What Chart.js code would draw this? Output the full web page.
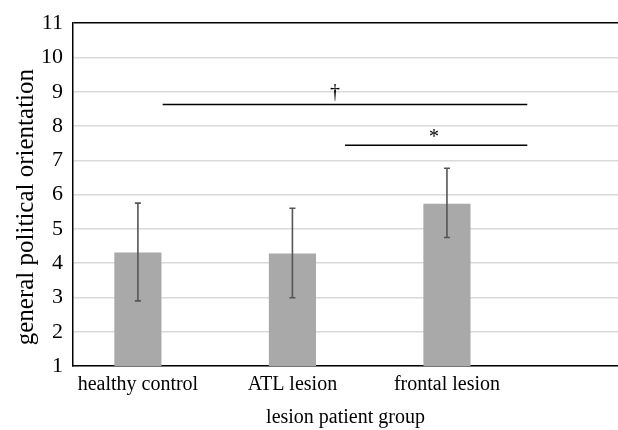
<!DOCTYPE html>
<html>
<head>
<meta charset="utf-8">
<script src="https://cdn.jsdelivr.net/npm/chart.js@4"></script>
<style>
  html, body { margin: 0; padding: 0; background: #fff; }
  #box { width: 618px; height: 430px; }
</style>
</head>
<body>
<div id="box"><canvas id="grafico"></canvas></div>
<script>
// dados
var grupos = ['healthy control', 'ATL lesion', 'frontal lesion'];
var medias = [4.31, 4.28, 5.73];
var erroBaixo = [2.90, 2.99, 4.75];
var erroAlto = [5.75, 5.60, 6.77];
var yTicks = [1, 2, 3, 4, 5, 6, 7, 8, 9, 10, 11];

// linhas de significancia: inicio, fim (em posicao de grupo), altura, simbolo e posicao do simbolo
var sigInicio = [0.16, 1.34];
var sigFim = [2.52, 2.52];
var sigAltura = [8.63, 7.44];
var sigTexto = ['\u2020', '*'];
var sigTextoX = [1.275, 1.916];
var sigTextoY = [8.98, 7.66];

var fonte = '"Liberation Serif", "DejaVu Serif", serif';

var pontos = [];
for (let i = 0; i < grupos.length; i++) {
    pontos.push({ x: i, y: medias[i] });
}

// barras de erro + significancia
var pluginErro = {
    id: 'erro',
    afterDatasetsDraw(chart) {
        var ctx = chart.ctx;
        var xs = chart.scales.x, ys = chart.scales.y;
        ctx.save();
        ctx.strokeStyle = '#555555';
        ctx.lineWidth = 1.6;
        for (let i = 0; i < grupos.length; i++) {
            var px = xs.getPixelForValue(i);
            var y1 = ys.getPixelForValue(erroBaixo[i]);
            var y2 = ys.getPixelForValue(erroAlto[i]);
            ctx.beginPath();
            ctx.moveTo(px, y1); ctx.lineTo(px, y2);
            ctx.moveTo(px - 3, y1); ctx.lineTo(px + 3, y1);
            ctx.moveTo(px - 3, y2); ctx.lineTo(px + 3, y2);
            ctx.stroke();
        }
        ctx.strokeStyle = '#000';
        ctx.fillStyle = '#000';
        ctx.lineWidth = 1.6;
        ctx.font = '20px ' + fonte;
        ctx.textAlign = 'center';
        ctx.textBaseline = 'middle';
        for (let j = 0; j < sigInicio.length; j++) {
            var yy = ys.getPixelForValue(sigAltura[j]);
            ctx.beginPath();
            ctx.moveTo(xs.getPixelForValue(sigInicio[j]), yy);
            ctx.lineTo(xs.getPixelForValue(sigFim[j]), yy);
            ctx.stroke();
            ctx.fillText(sigTexto[j], xs.getPixelForValue(sigTextoX[j]), ys.getPixelForValue(sigTextoY[j]));
        }
        ctx.restore();
    }
};

var ctx = document.getElementById('grafico');
var meuGrafico = new Chart(ctx, {
    type: 'bar',
    data: {
        datasets: [{
            data: pontos,
            backgroundColor: '#a9a9a9',
            borderWidth: 0,
            barPercentage: 0.305,
            categoryPercentage: 1
        }]
    },
    options: {
        responsive: true,
        maintainAspectRatio: false,
        animation: false,
        layout: { padding: { top: 11, right: 0, left: 0, bottom: 0 } },
        plugins: {
            legend: { display: false },
            tooltip: { enabled: false }
        },
        scales: {
            x: {
                type: 'linear',
                offset: false,
                min: -0.42,
                max: 3.107,
                afterBuildTicks: function (axis) {
                    axis.ticks = grupos.map(function (g, i) { return { value: i }; });
                },
                afterFit: function (axis) { axis.height = 64; },
                grid: { display: false, drawTicks: false, offset: false },
                border: { display: true, color: '#000', width: 1.5 },
                ticks: {
                    color: '#000',
                    padding: 7,
                    maxRotation: 0,
                    autoSkip: false,
                    font: { family: fonte, size: 20 },
                    callback: function (v) { return grupos[v]; }
                },
                title: {
                    display: true,
                    text: 'lesion patient group',
                    color: '#000',
                    padding: { top: 0, bottom: 0 },
                    font: { family: fonte, size: 20 }
                }
            },
            y: {
                min: 1,
                max: 11,
                afterBuildTicks: function (axis) {
                    axis.ticks = yTicks.map(function (v) { return { value: v }; });
                },
                afterFit: function (axis) { axis.width = 73; },
                grid: {
                    drawTicks: false,
                    color: function (c) { return c.tick.value === 11 ? '#000' : '#d9d9d9'; },
                    lineWidth: 1.5
                },
                border: { display: true, color: '#000', width: 1.5 },
                ticks: {
                    color: '#000',
                    padding: 10,
                    font: { family: fonte, size: 22 }
                },
                title: {
                    display: true,
                    text: 'general political orientation    ',
                    color: '#000',
                    padding: { top: 11, bottom: 0 },
                    font: { family: fonte, size: 25 }
                }
            }
        }
    },
    plugins: [pluginErro]
});
</script>
</body>
</html>
